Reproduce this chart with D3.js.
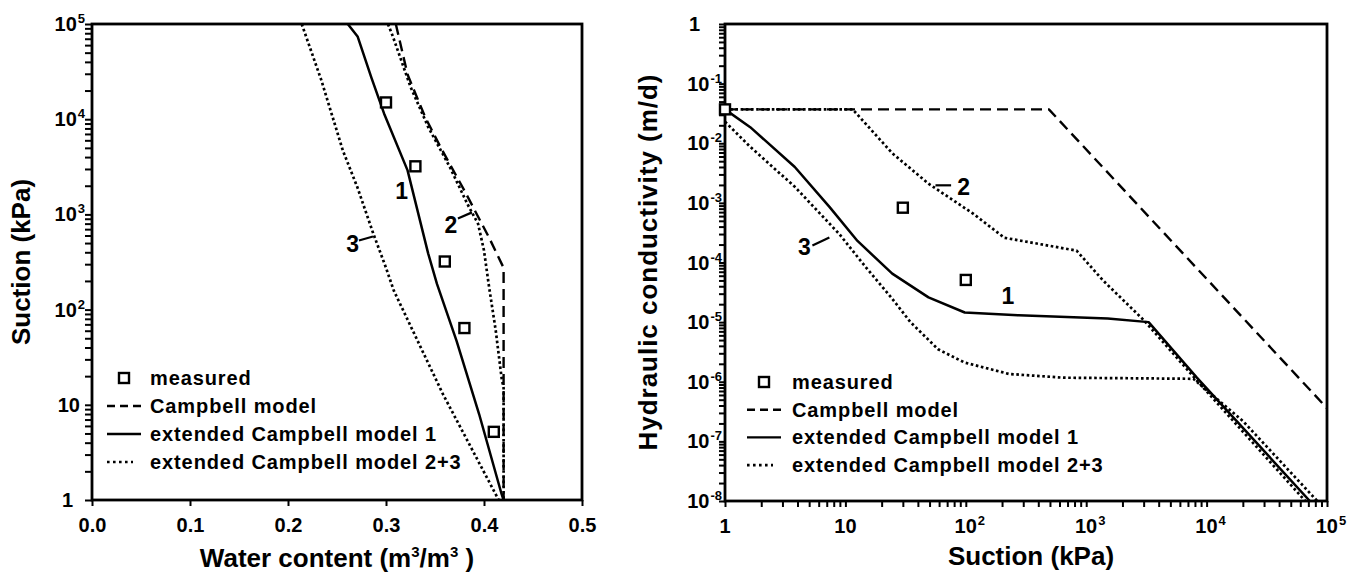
<!DOCTYPE html>
<html><head><meta charset="utf-8">
<script src="https://cdn.jsdelivr.net/npm/d3@7"></script>
<style>
html,body{margin:0;padding:0;background:#fff;}
svg{display:block;}
</style></head><body>
<svg id="chart" width="1363" height="572"></svg>
<script>
// ---------------- DATA ----------------
// Left panel: water retention (water content vs suction)
const retXTicks = [0, 0.1, 0.2, 0.3, 0.4, 0.5];
const retYTicks = [1, 10, 100, 1000, 10000, 100000];
const retMeasuredTheta   = [0.30, 0.33, 0.36, 0.38, 0.41];
const retMeasuredSuction = [15000, 3200, 320, 64, 5.2];
const retCampbellTheta   = [0.310, 0.322, 0.340, 0.356, 0.380, 0.405, 0.420, 0.420];
const retCampbellSuction = [1e5, 29500, 10500, 5000, 1780, 575, 275, 1];
const retModel1Theta     = [0.261, 0.271, 0.285, 0.298, 0.322, 0.343, 0.352, 0.372, 0.395, 0.418, 0.420];
const retModel1Suction   = [1e5, 74000, 27500, 11500, 2900, 390, 186, 47, 8, 1.15, 1];
const retModel2Theta     = [0.302, 0.307, 0.325, 0.343, 0.365, 0.383, 0.394, 0.400, 0.405, 0.412, 0.418, 0.420, 0.420];
const retModel2Suction   = [1e5, 74000, 21900, 8300, 3160, 1290, 794, 417, 178, 60, 19, 15, 1];
const retModel3Theta     = [0.214, 0.234, 0.256, 0.271, 0.287, 0.300, 0.308, 0.358, 0.415];
const retModel3Suction   = [1e5, 25700, 4680, 1900, 630, 275, 158, 13, 1];
// curve labels (text, theta, suction) and leader lines (theta1, s1, theta2, s2)
const retLabelText    = ["1", "2", "3"];
const retLabelTheta   = [0.316, 0.3663, 0.266];
const retLabelSuction = [1780, 766, 490];
const retLeaderTheta1 = [0.3734, 0.2724];
const retLeaderS1     = [908, 532];
const retLeaderTheta2 = [0.3878, 0.2867];
const retLeaderS2     = [1050, 586];

// Right panel: hydraulic conductivity vs suction
const condXTicks = [1, 10, 100, 1000, 10000, 100000];
const condYTicks = [1e-8, 1e-7, 1e-6, 1e-5, 1e-4, 1e-3, 1e-2, 1e-1, 1];
const condMeasuredSuction = [1, 30, 100];
const condMeasuredK       = [0.037, 8.3e-4, 5.1e-5];
const condCampbellSuction = [1, 490, 1e5];
const condCampbellK       = [0.037, 0.037, 3.6e-7];
const condModel1Suction   = [1, 1.62, 3.8, 7.4, 12.6, 24.5, 49, 98, 275, 1510, 3300, 8300, 72000];
const condModel1K         = [0.037, 0.0186, 0.004, 8.5e-4, 2.3e-4, 6.5e-5, 2.6e-5, 1.45e-5, 1.3e-5, 1.15e-5, 1.0e-5, 1.17e-6, 1e-8];
const condModel2Suction   = [1, 11.5, 24.5, 49, 115, 209, 832, 1380, 3020, 8300, 66000];
const condModel2K         = [0.037, 0.037, 6.8e-3, 2.1e-3, 6.6e-4, 2.6e-4, 1.58e-4, 5e-5, 1.07e-5, 1.05e-6, 1e-8];
const condModel3Suction   = [1, 1.62, 3.8, 8.9, 14.8, 24, 34.7, 58.9, 97.7, 229, 646, 7760, 20000, 83000];
const condModel3K         = [0.023, 8.7e-3, 1.86e-3, 3e-4, 8.3e-5, 2.6e-5, 1e-5, 3.5e-6, 2.1e-6, 1.35e-6, 1.17e-6, 1.12e-6, 2.2e-7, 1e-8];
const condLabelText    = ["1", "2", "3"];
const condLabelSuction = [224, 96, 4.57];
const condLabelK       = [2.7e-5, 1.86e-3, 1.82e-4];
const condLeaderS1     = [56, 5.32];
const condLeaderK1     = [1.97e-3, 1.93e-4];
const condLeaderS2     = [75.5, 7.36];
const condLeaderK2     = [1.97e-3, 2.63e-4];

const legendLabels = ["measured", "Campbell model", "extended Campbell model 1", "extended Campbell model 2+3"];

// ---------------- DRAWING ----------------
const FONT = '"Liberation Sans", Arial, Helvetica, sans-serif';
const svg = d3.select("#chart")
  .attr("font-family", FONT).attr("font-weight", "bold");

const zip = (a, b) => a.map((v, i) => [v, b[i]]);

const STY = {
  campbell: {dash: "11,6", w: 2.4},
  model1:   {dash: null, w: 2.5},
  model23:  {dash: "2.6,2.6", w: 2.7}
};

const xL = d3.scaleLinear().domain([0, 0.5]).range([92, 582]);
const yL = d3.scaleLog().domain([1, 1e5]).range([500, 24]);
const xR = d3.scaleLog().domain([1, 1e5]).range([725, 1327]);
const yR = d3.scaleLog().domain([1e-8, 1]).range([501, 24]);

function expOf(v) { return Math.round(Math.log10(v)); }

function supLabel(sel, v, plainUpTo) {
  const e = expOf(v);
  if (e >= 0 && v <= plainUpTo) {
    sel.append("tspan").text(String(v));
  } else {
    sel.append("tspan").text("10");
    sel.append("tspan").attr("font-size", 13).attr("dx", 1).attr("dy", -8).text(String(e));
  }
}

function styleAxis(g) {
  g.select(".domain").remove();
  g.selectAll(".tick line").attr("stroke", "#000").attr("stroke-width", 2);
}

function drawCurve(g, xs, ys, x, y, st, clipId) {
  g.append("path")
    .datum(zip(xs, ys))
    .attr("clip-path", `url(#${clipId})`)
    .attr("fill", "none").attr("stroke", "#000")
    .attr("stroke-width", st.w)
    .attr("stroke-dasharray", st.dash)
    .attr("stroke-linejoin", "round")
    .attr("d", d3.line().x(d => x(d[0])).y(d => y(d[1])));
}

function drawSquares(g, xs, ys, x, y) {
  g.selectAll(null).data(zip(xs, ys)).enter().append("rect")
    .attr("x", d => x(d[0]) - 5).attr("y", d => y(d[1]) - 5)
    .attr("width", 10).attr("height", 10)
    .attr("fill", "#fff").attr("stroke", "#000").attr("stroke-width", 2.4);
}

function drawLegend(g, lx1, lx2, tx, y0, dy) {
  legendLabels.forEach((lab, i) => {
    const yy = y0 + i * dy;
    if (i === 0) {
      g.append("rect").attr("x", (lx1 + lx2) / 2 - 5).attr("y", yy - 5).attr("width", 10).attr("height", 10)
        .attr("fill", "#fff").attr("stroke", "#000").attr("stroke-width", 2.4);
    } else {
      const dash = i === 1 ? "8,5" : (i === 3 ? "2.6,3.4" : null);
      const x2 = i === 3 ? lx1 + 26 : lx2;
      g.append("line").attr("x1", lx1).attr("x2", x2).attr("y1", yy).attr("y2", yy)
        .attr("stroke", "#000").attr("stroke-width", i === 3 ? 2.6 : 2.4).attr("stroke-dasharray", dash);
    }
    g.append("text").attr("x", tx).attr("y", yy + 7).attr("font-size", 20)
      .attr("letter-spacing", 0.9).text(lab);
  });
}

// clip paths
const defs = svg.append("defs");
defs.append("clipPath").attr("id", "clipL").append("rect")
  .attr("x", xL.range()[0]).attr("y", yL.range()[1])
  .attr("width", xL.range()[1] - xL.range()[0]).attr("height", yL.range()[0] - yL.range()[1]);
defs.append("clipPath").attr("id", "clipR").append("rect")
  .attr("x", xR.range()[0]).attr("y", yR.range()[1])
  .attr("width", xR.range()[1] - xR.range()[0]).attr("height", yR.range()[0] - yR.range()[1]);

// ======== LEFT PANEL ========
const gL = svg.append("g");
gL.append("g").attr("transform", `translate(0,${yL.range()[0]})`)
  .call(d3.axisBottom(xL).tickValues(retXTicks).tickSize(6).tickSizeOuter(0).tickPadding(12).tickFormat(d3.format(".1f")))
  .call(styleAxis)
  .call(g => g.selectAll("text").attr("font-size", 20).attr("font-family", FONT).attr("font-weight", "bold").attr("fill", "#000"));
gL.append("g").attr("transform", `translate(${xL.range()[0]},0)`)
  .call(d3.axisLeft(yL).tickValues(yL.ticks()).tickSize(7).tickSizeOuter(0).tickFormat(() => ""))
  .call(styleAxis);
retYTicks.forEach(v => {
  const t = gL.append("text").attr("text-anchor", "end").attr("font-size", 20)
    .attr("x", xL.range()[0] - (v === 1 ? 19 : (v === 10 ? 12 : 7)))
    .attr("y", yL(v) + 7);
  supLabel(t, v, 10);
});
gL.append("rect").attr("x", xL.range()[0]).attr("y", yL.range()[1])
  .attr("width", xL.range()[1] - xL.range()[0]).attr("height", yL.range()[0] - yL.range()[1])
  .attr("fill", "none").attr("stroke", "#000").attr("stroke-width", 2.8);
drawCurve(gL, retCampbellTheta, retCampbellSuction, xL, yL, STY.campbell, "clipL");
drawCurve(gL, retModel1Theta, retModel1Suction, xL, yL, STY.model1, "clipL");
drawCurve(gL, retModel2Theta, retModel2Suction, xL, yL, STY.model23, "clipL");
drawCurve(gL, retModel3Theta, retModel3Suction, xL, yL, STY.model23, "clipL");
drawSquares(gL, retMeasuredTheta, retMeasuredSuction, xL, yL);
retLabelText.forEach((t, i) => {
  gL.append("text").attr("text-anchor", "middle").attr("font-size", 23)
    .attr("x", xL(retLabelTheta[i])).attr("y", yL(retLabelSuction[i]) + 8).text(t);
});
retLeaderTheta1.forEach((t, i) => {
  gL.append("line").attr("x1", xL(t)).attr("y1", yL(retLeaderS1[i]))
    .attr("x2", xL(retLeaderTheta2[i])).attr("y2", yL(retLeaderS2[i]))
    .attr("stroke", "#000").attr("stroke-width", 2.2);
});
drawLegend(gL, 107, 141, 150, 378, 28);
const tL = gL.append("text").attr("text-anchor", "middle").attr("font-size", 26)
  .attr("x", (xL.range()[0] + xL.range()[1]) / 2).attr("y", 567);
tL.append("tspan").text("Water content (m");
tL.append("tspan").attr("font-size", 15).attr("dy", -10).text("3");
tL.append("tspan").attr("dy", 10).text("/m");
tL.append("tspan").attr("font-size", 15).attr("dy", -10).text("3");
tL.append("tspan").attr("dy", 10).text(" )");
gL.append("text").attr("text-anchor", "middle").attr("font-size", 26)
  .attr("transform", `translate(30,${(yL.range()[0] + yL.range()[1]) / 2}) rotate(-90)`)
  .text("Suction (kPa)");

// ======== RIGHT PANEL ========
const gR = svg.append("g");
gR.append("g").attr("transform", `translate(0,${yR.range()[0]})`)
  .call(d3.axisBottom(xR).tickValues(xR.ticks()).tickSize(6).tickSizeOuter(0).tickFormat(() => ""))
  .call(styleAxis);
gR.append("g").attr("transform", `translate(${xR.range()[0]},0)`)
  .call(d3.axisLeft(yR).tickValues(yR.ticks()).tickSize(6).tickSizeOuter(0).tickFormat(() => ""))
  .call(styleAxis);
condXTicks.forEach(v => {
  const t = gR.append("text").attr("text-anchor", "middle").attr("font-size", 20)
    .attr("x", xR(v) + (v >= 100 ? 4 : 0)).attr("y", 533);
  supLabel(t, v, 10);
});
condYTicks.forEach(v => {
  const t = gR.append("text").attr("text-anchor", "end").attr("font-size", 20)
    .attr("x", xR.range()[0] - (v === 1 ? 25 : 3))
    .attr("y", yR(v) + 7);
  supLabel(t, v, 1);
});
gR.append("rect").attr("x", xR.range()[0]).attr("y", yR.range()[1])
  .attr("width", xR.range()[1] - xR.range()[0]).attr("height", yR.range()[0] - yR.range()[1])
  .attr("fill", "none").attr("stroke", "#000").attr("stroke-width", 2.8);
drawCurve(gR, condCampbellSuction, condCampbellK, xR, yR, STY.campbell, "clipR");
drawCurve(gR, condModel1Suction, condModel1K, xR, yR, STY.model1, "clipR");
drawCurve(gR, condModel2Suction, condModel2K, xR, yR, STY.model23, "clipR");
drawCurve(gR, condModel3Suction, condModel3K, xR, yR, STY.model23, "clipR");
drawSquares(gR, condMeasuredSuction, condMeasuredK, xR, yR);
condLabelText.forEach((t, i) => {
  gR.append("text").attr("text-anchor", "middle").attr("font-size", 23)
    .attr("x", xR(condLabelSuction[i])).attr("y", yR(condLabelK[i]) + 8).text(t);
});
condLeaderS1.forEach((s, i) => {
  gR.append("line").attr("x1", xR(s)).attr("y1", yR(condLeaderK1[i]))
    .attr("x2", xR(condLeaderS2[i])).attr("y2", yR(condLeaderK2[i]))
    .attr("stroke", "#000").attr("stroke-width", 2.2);
});
drawLegend(gR, 747, 781, 792, 382, 27.7);
gR.append("text").attr("text-anchor", "middle").attr("font-size", 26)
  .attr("x", (xR.range()[0] + xR.range()[1]) / 2 + 5).attr("y", 565)
  .text("Suction (kPa)");
gR.append("text").attr("text-anchor", "middle").attr("font-size", 26)
  .attr("textLength", 376).attr("lengthAdjust", "spacing")
  .attr("transform", `translate(657,${(yR.range()[0] + yR.range()[1]) / 2}) rotate(-90)`)
  .text("Hydraulic conductivity (m/d)");
</script>
</body></html>
